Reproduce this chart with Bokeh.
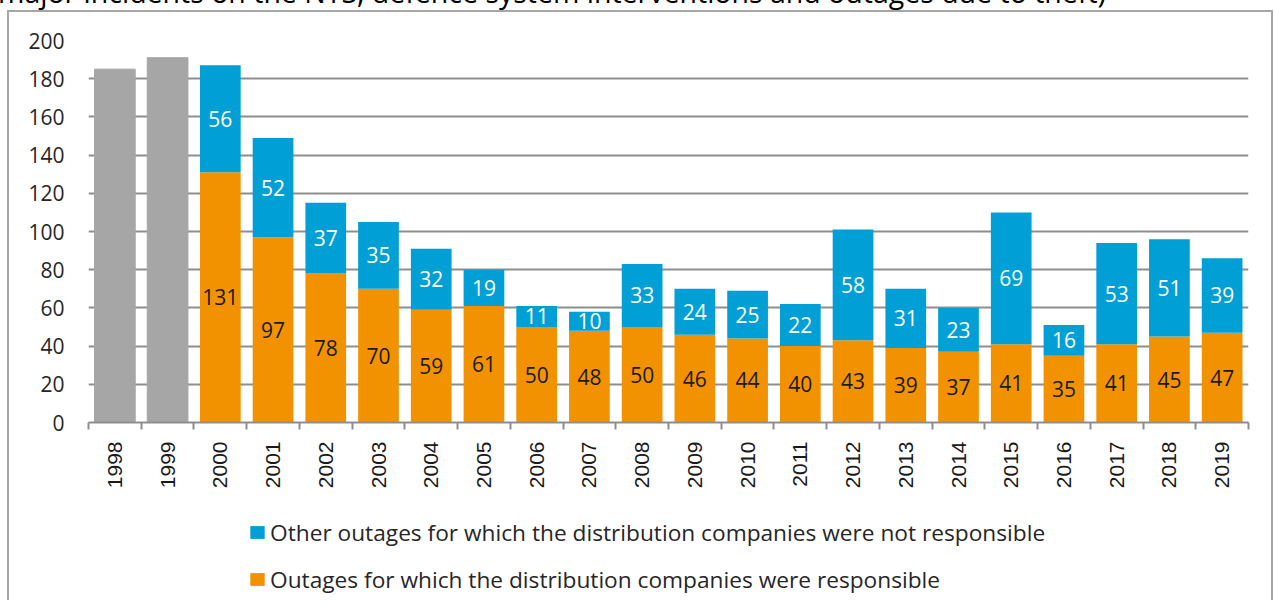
from bokeh.plotting import figure
from bokeh.models import (FixedTicker, Legend, LegendItem, ColumnDataSource, Div)
from bokeh.layouts import column
from bokeh.core.properties import value
from bokeh.embed import file_html
from bokeh.resources import INLINE

# ---- data ----
gray_years = [1998, 1999]
gray_totals = [185, 191]

years = [2000, 2001, 2002, 2003, 2004, 2005, 2006, 2007, 2008, 2009,
         2010, 2011, 2012, 2013, 2014, 2015, 2016, 2017, 2018, 2019]
responsible = [131, 97, 78, 70, 59, 61, 50, 48, 50, 46,
               44, 40, 43, 39, 37, 41, 35, 41, 45, 47]
other = [56, 52, 37, 35, 32, 19, 11, 10, 33, 24,
         25, 22, 58, 31, 23, 69, 16, 53, 51, 39]

all_years = gray_years + years
y_ticks = [0, 20, 40, 60, 80, 100, 120, 140, 160, 180, 200]

title_text = "major incidents on the NTS, defence system interventions and outages due to theft)"
label_other = "Other outages for which the distribution companies were not responsible"
label_resp = "Outages for which the distribution companies were responsible"

ORANGE = "#F39200"
BLUE = "#009FD6"
GRAY = "#A6A6A6"
GRID = "#8E8E8E"
FRAME = "#A6A6A6"

src = ColumnDataSource(dict(
    year=years,
    responsible=responsible,
    other=other,
    resp_y=[r / 2 for r in responsible],
    other_y=[r + o / 2 for r, o in zip(responsible, other)],
    resp_txt=[str(v) for v in responsible],
    other_txt=[str(v) for v in other],
))

x_rng = (all_years[0] - 0.5, all_years[-1] + 0.5)

p = figure(width=1274, height=492, output_backend="svg", toolbar_location=None,
           x_range=x_rng, y_range=(0, 200),
           min_border_left=88, min_border_right=26, min_border_top=30,
           min_border_bottom=80)
p.outline_line_color = None
p.background_fill_color = None
p.border_fill_color = None

p.vbar(x=gray_years, top=gray_totals, width=0.772, color=GRAY)
rs = p.vbar_stack(["responsible", "other"], x="year", width=0.772,
                  color=[ORANGE, BLUE], source=src, line_color=None)

p.text(x="year", y="resp_y", text="resp_txt", source=src,
       text_align="center", text_baseline="middle",
       text_font=value("Open Sans"), text_font_size="21px", text_color="#1a1a1a")
p.text(x="year", y="other_y", text="other_txt", source=src,
       text_align="center", text_baseline="middle",
       text_font=value("Open Sans"), text_font_size="21px", text_color="white")

# grid
p.xgrid.grid_line_color = None
p.ygrid.ticker = FixedTicker(ticks=y_ticks)
p.ygrid.grid_line_color = GRID
p.ygrid.grid_line_width = 2

# x axis
xa = p.xaxis[0]
xa.ticker = FixedTicker(ticks=all_years,
                        minor_ticks=[y - 0.5 for y in all_years] + [all_years[-1] + 0.5])
xa.major_label_overrides = {y: str(y) for y in all_years}
xa.major_label_orientation = 3.14159265 / 2
xa.major_tick_out = 0
xa.major_tick_in = 0
xa.minor_tick_out = 7
xa.minor_tick_in = 0
xa.minor_tick_line_color = GRID
xa.minor_tick_line_width = 2
xa.axis_line_color = GRID
xa.axis_line_width = 2
xa.major_label_standoff = 12
xa.major_label_text_font = "Liberation Sans"
xa.major_label_text_font_size = "21px"
xa.major_label_text_color = "#1a1a1a"

# y axis
ya = p.yaxis[0]
ya.ticker = FixedTicker(ticks=y_ticks)
ya.axis_line_color = None
ya.major_tick_line_color = None
ya.minor_tick_line_color = None
ya.major_tick_out = 0
ya.major_label_standoff = 24
ya.major_label_text_font = "Open Sans"
ya.major_label_text_font_size = "21px"
ya.major_label_text_color = "#262626"

# ---- legend strip (second figure; its renderers are hidden, legend only) ----
pl = figure(width=1274, height=98, output_backend="svg", toolbar_location=None,
            x_range=x_rng, y_range=(-2, -1), x_axis_location=None, y_axis_location=None,
            min_border=0)
pl.outline_line_color = None
pl.background_fill_color = None
pl.border_fill_color = None
pl.grid.visible = False
lg_blue = pl.vbar(x="year", top="other", source=src, width=0.5,
                  fill_color=BLUE, line_color=None, visible=False)
lg_orange = pl.vbar(x="year", top="responsible", source=src, width=0.5,
                    fill_color=ORANGE, line_color=None, visible=False)

legend = Legend(items=[LegendItem(label=label_other, renderers=[lg_blue]),
                       LegendItem(label=label_resp, renderers=[lg_orange])],
                location=(160, 5.5), orientation="vertical",
                glyph_width=18, glyph_height=16, label_standoff=4,
                label_text_font="Open Sans", label_text_font_size="22.7px",
                label_text_color="#262626", spacing=16, padding=0, margin=0,
                border_line_color=None, background_fill_alpha=0,
                inactive_fill_alpha=0)
pl.add_layout(legend, "center")

line = "linear-gradient(%s,%s)" % (FRAME, FRAME)
p.styles = {
    "background": (line + " 7px 0px / 2px 100% no-repeat, "
                   + line + " 7px 0px / 1266px 2px no-repeat, "
                   + line + " 1271px 0px / 2px 100% no-repeat"),
}
pl.styles = {
    "background": (line + " 7px 0px / 2px 100% no-repeat, "
                   + line + " 1271px 0px / 2px 100% no-repeat"),
}

title = Div(text='<div style="font-family:\'Open Sans\'; font-size:28.5px; line-height:28px; '
                 'white-space:nowrap; color:#000; margin:0; padding:0;">' + title_text + '</div>',
            width=1274, height=32, margin=(-22, 0, 0, -2))

layout = column(title, p, pl, spacing=0)

open("out.html", "w").write(file_html(layout, INLINE))
